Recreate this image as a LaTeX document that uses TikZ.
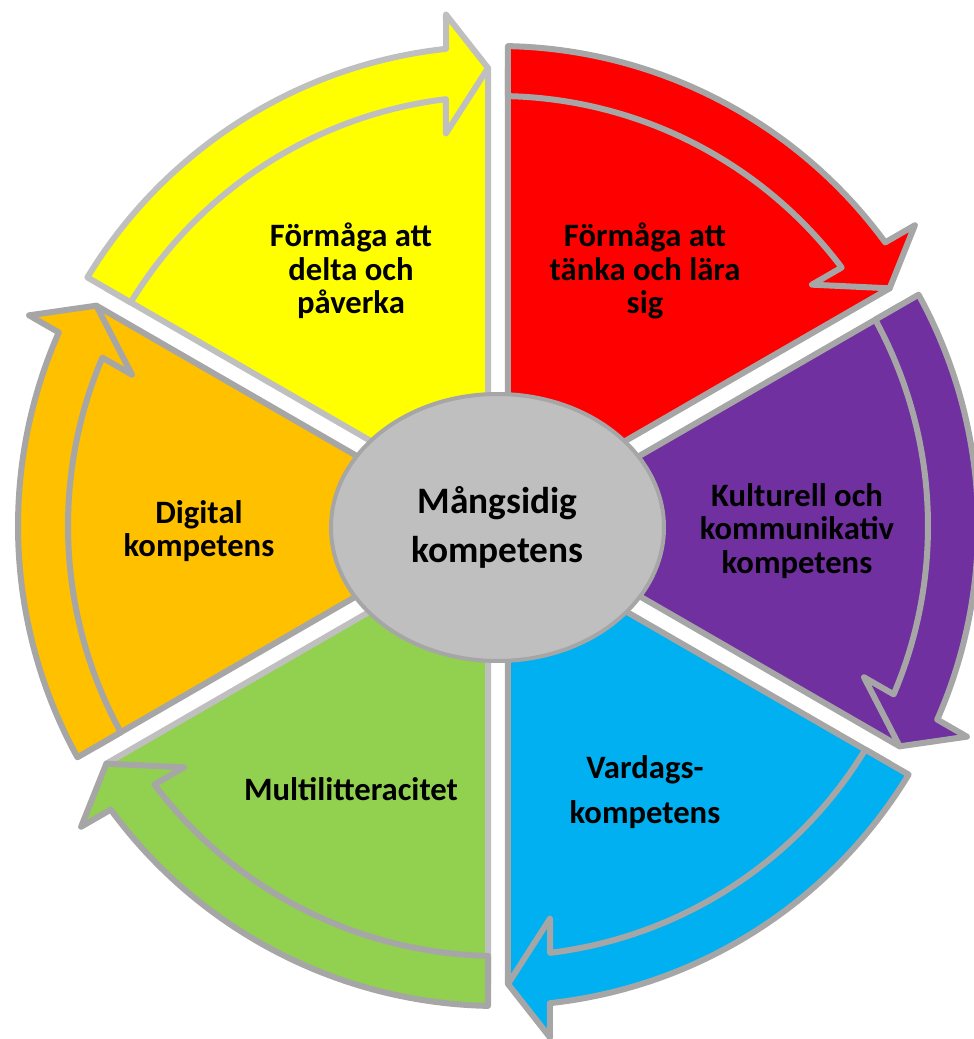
\documentclass[tikz,border=0pt]{standalone}
\usepackage{fontspec}
\setmainfont{Carlito}
\usepackage{tikz}
\usetikzlibrary{shapes.geometric}
\definecolor{segyellow}{HTML}{FFFF00}
\definecolor{segred}{HTML}{FF0000}
\definecolor{segpurple}{HTML}{7030A0}
\definecolor{segblue}{HTML}{00B0F0}
\definecolor{seggreen}{HTML}{92D050}
\definecolor{segorange}{HTML}{FFC000}
\definecolor{edgedark}{HTML}{A6A6A6}
\definecolor{edgelight}{HTML}{BFBFBF}
\definecolor{hubgrey}{HTML}{BFBFBF}

\begin{document}
\begin{tikzpicture}[
    x=0.75pt, y=0.75pt,
    line join=round,
    wedge_edge/.style={},
    sector/.pic={
        % wedge from the hub out to the arrow tip
        \path[pic actions, wedge_edge] (-10,17.32) -- (91.25:458)
            arc[start angle=91.25, end angle=148.75, radius=458] -- cycle;
        % curved arrow along the rim
        \path[pic actions] (148.81:480)
            arc[start angle=148.81, end angle=96.22, radius=480]
            -- (-52,511.4) -- (-10,458) -- (-52,392.6) -- (96.95:430)
            arc[start angle=96.95, end angle=148.67, radius=430] -- cycle;
    },
    seg_edge/.style={draw=edgedark, line width=4.5pt},
    seg_label/.style={font=\bfseries\fontsize{24.5}{25}\selectfont, align=center, text=black},
    hub_core/.style={ellipse, draw=edgedark, line width=3pt, fill=hubgrey, minimum width=249.75pt, minimum height=200.25pt, inner sep=0pt, font=\bfseries\fontsize{28}{37}\selectfont, align=center}
]
    \useasboundingbox (-498,-513) rectangle (476,526);

    % Six sectors, each a wedge with its arrow, turning clockwise
    \pic[rotate=0, fill=segyellow, seg_edge, draw=edgelight] (yellow) {sector};
    \pic[rotate=-60, fill=segred, seg_edge] (red) {sector};
    \pic[rotate=-120, fill=segpurple, seg_edge] (purple) {sector};
    \pic[rotate=180, fill=segblue, seg_edge] (blue) {sector};
    \pic[rotate=120, fill=seggreen, seg_edge, wedge_edge/.style={draw=edgelight}] (green) {sector};
    \pic[rotate=60, fill=segorange, seg_edge] (orange) {sector};

    % Sector labels
    \node[seg_label] (yellow_text) at (-147,255) {Förmåga att\\delta och\\påverka};
    \node[seg_label] (red_text) at (147,255) {Förmåga att\\tänka och lära\\sig};
    \node[seg_label] (purple_text) at (299,-5) {Kulturell och\\kommunikativ\\kompetens};
    \node[seg_label, font=\bfseries\fontsize{24.5}{33.75}\selectfont] (blue_text) at (147,-266) {Vardags-\\kompetens};
    \node[seg_label] (green_text) at (-147,-263) {Multilitteracitet};
    \node[seg_label] (orange_text) at (-299,-5) {Digital\\kompetens};

    % Hub in the middle
    \node[hub_core] (hub) at (-0.5,-1.5) {Mångsidig\\kompetens};

\end{tikzpicture}
\end{document}
